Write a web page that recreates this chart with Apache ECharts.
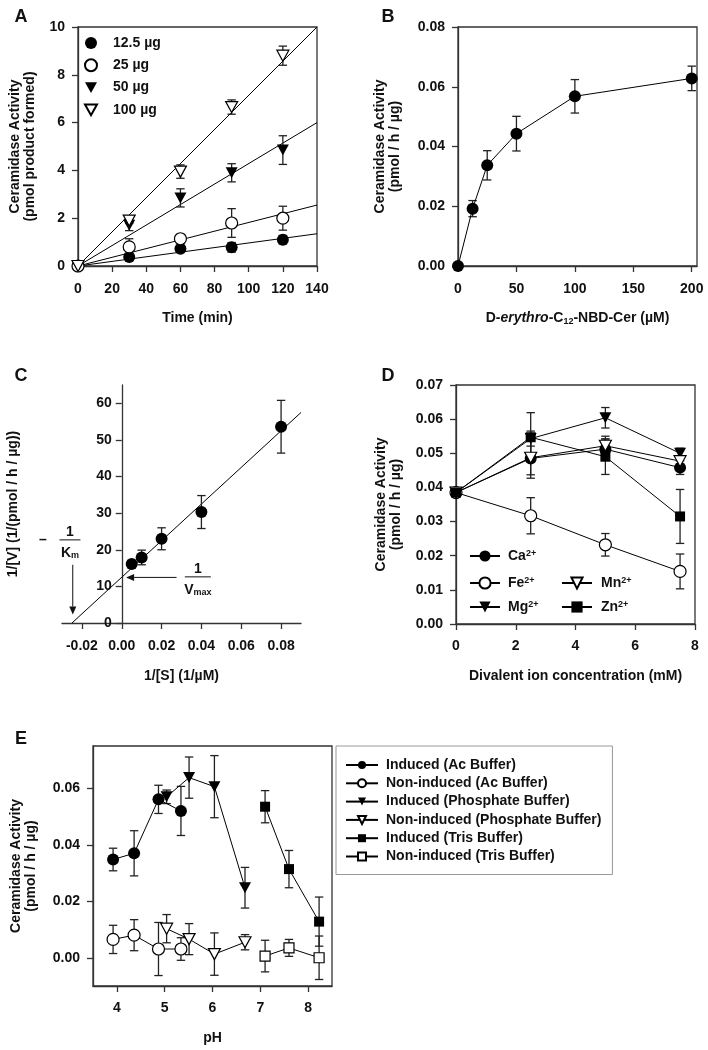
<!DOCTYPE html>
<html><head><meta charset="utf-8">
<script src="https://cdn.jsdelivr.net/npm/echarts@6/dist/echarts.min.js"></script>
<style>html,body{margin:0;padding:0;background:#fff}#c{width:708px;height:1050px}</style>
</head><body><div id="c"></div>
<script>
// ---------------- DATA ----------------
// Panel A
const aTime = [0, 30, 60, 90, 120];
const aNames = ['12.5 µg', '25 µg', '50 µg', '100 µg'];
const a125 = [0, 0.38, 0.72, 0.78, 1.10];
const a125Err = [0, 0.08, 0.10, 0.20, 0.18];
const a25 = [0, 0.80, 1.14, 1.80, 2.00];
const a25Err = [0, 0.34, 0.18, 0.60, 0.50];
const a50 = [0, 1.70, 2.85, 3.90, 4.85];
const a50Err = [0, 0.22, 0.38, 0.38, 0.60];
const a100 = [0, 1.90, 3.95, 6.65, 8.80];
const a100Err = [0, 0.12, 0.28, 0.30, 0.40];
const aFitX = [0, 140];
const aFit125 = [0, 1.35];
const aFit25 = [0, 2.55];
const aFit50 = [0, 6.0];
const aFit100 = [0, 10.0];

// Panel B
const bConc = [0, 12.5, 25, 50, 100, 200];
const bAct = [0, 0.0192, 0.0337, 0.0443, 0.0568, 0.0628];
const bErr = [0, 0.0027, 0.0049, 0.0058, 0.0056, 0.0041];
const bXTicks = [0, 50, 100, 150, 200];

// Panel C
const cInvS = [0.005, 0.01, 0.02, 0.04, 0.08];
const cInvV = [16.1, 17.9, 23.0, 30.3, 53.6];
const cErr = [1.0, 2.0, 3.0, 4.5, 7.2];
const cFitX = [-0.025, 0.09];
const cFitY = [0, 57.5];
const cXMin = -0.03, cXMax = 0.09;
const cXTicks = [-0.02, 0, 0.02, 0.04, 0.06, 0.08];
const cYTicks = [0, 10, 20, 30, 40, 50, 60];
const cKmAnchor = [-0.026, 22.7];
const cKmArrow = [[-0.0246, 15.9], [-0.0246, 2.3]];
const cVmaxAnchor = [0.0382, 12.6];
const cVmaxArrow = [[0.0275, 12.45], [0.0022, 12.45]];

// Panel D
const dConc = [0, 2.5, 5, 7.5];
const dNames = ['Ca2+', 'Fe2+', 'Mg2+', 'Mn2+', 'Zn2+'];
const dCa = [0.0385, 0.0485, 0.0512, 0.0458];
const dCaErr = [0.0008, 0.0058, 0.0030, 0.0020];
const dFe = [0.0385, 0.0317, 0.0232, 0.0154];
const dFeErr = [0.0008, 0.0053, 0.0033, 0.0051];
const dMg = [0.0385, 0.0543, 0.0604, 0.0500];
const dMgErr = [0.0008, 0.0022, 0.0030, 0.0015];
const dMn = [0.0385, 0.0487, 0.0522, 0.0477];
const dMnErr = [0.0008, 0.0050, 0.0028, 0.0015];
const dZn = [0.0385, 0.0547, 0.0490, 0.0315];
const dZnErr = [0.0008, 0.0072, 0.0052, 0.0079];

// Panel E
const eNames = ['Induced (Ac Buffer)', 'Non-induced (Ac Buffer)', 'Induced (Phosphate Buffer)',
  'Non-induced (Phosphate Buffer)', 'Induced (Tris Buffer)', 'Non-induced (Tris Buffer)'];
const eAcPH = [3.92, 4.36, 4.87, 5.34];
const eAcInd = [0.0348, 0.0370, 0.0561, 0.0520];
const eAcIndErr = [0.0040, 0.0080, 0.0050, 0.0087];
const eAcNon = [0.0065, 0.0080, 0.0031, 0.0031];
const eAcNonErr = [0.0050, 0.0055, 0.0094, 0.0040];
const ePhPH = [5.04, 5.51, 6.04, 6.68];
const ePhInd = [0.0570, 0.0638, 0.0606, 0.0248];
const ePhIndErr = [0.0024, 0.0073, 0.0110, 0.0072];
const ePhNon = [0.0103, 0.0066, 0.0013, 0.0055];
const ePhNonErr = [0.0050, 0.0055, 0.0075, 0.0027];
const eTrPH = [7.10, 7.60, 8.23];
const eTrInd = [0.0535, 0.0314, 0.0128];
const eTrIndErr = [0.0057, 0.0066, 0.0087];
const eTrNon = [0.0006, 0.0035, 0.0000];
const eTrNonErr = [0.0056, 0.0030, 0.0077];
const eXTicks = [4, 5, 6, 7, 8];
const eYTicks = [0, 0.02, 0.04, 0.06];

// ---------------- STYLE ----------------
const FONT = '"Liberation Sans", Arial, Helvetica, sans-serif';
const INK = '#111';
const AXC = '#333';
const TRI = 'path://M0,0L10,0L5,9Z';
const MK = {
  fc: {symbol: 'circle', size: 12, item: {color: '#000', opacity: 1}},
  oc: {symbol: 'circle', size: 12, item: {color: '#fff', borderColor: '#000', borderWidth: 1.2, opacity: 1}},
  ft: {symbol: TRI, size: [12, 11], item: {color: '#000', opacity: 1}},
  ot: {symbol: TRI, size: [12, 11], item: {color: '#fff', borderColor: '#000', borderWidth: 1.2, opacity: 1}},
  fs: {symbol: 'rect', size: 10, item: {color: '#000', opacity: 1}},
  os: {symbol: 'rect', size: 10, item: {color: '#fff', borderColor: '#000', borderWidth: 1.2, opacity: 1}}
};
const zip = (xs, ys) => xs.map((x, i) => [x, ys[i]]);
const bold14 = {fontFamily: FONT, fontWeight: 'bold', fontSize: 14, color: INK};

function errRender(params, api) {
  const x = api.value(0), y = api.value(1), e = api.value(2);
  const t = api.coord([x, y + e]), b = api.coord([x, y - e]);
  const hw = 4.2, st = {stroke: '#222', lineWidth: 1.3};
  return {type: 'group', children: [
    {type: 'line', shape: {x1: t[0], y1: t[1], x2: b[0], y2: b[1]}, style: st},
    {type: 'line', shape: {x1: t[0] - hw, y1: t[1], x2: t[0] + hw, y2: t[1]}, style: st},
    {type: 'line', shape: {x1: b[0] - hw, y1: b[1], x2: b[0] + hw, y2: b[1]}, style: st}
  ]};
}
function errSeries(name, gi, xs, ys, es) {
  return {type: 'custom', name: name + ' err', xAxisIndex: gi, yAxisIndex: gi, silent: true, clip: false, z: 2,
    data: xs.map((x, i) => [x, ys[i], es[i]]), encode: {x: 0, y: 1}, renderItem: errRender};
}
function scatterSeries(name, gi, xs, ys, mk) {
  return {type: 'scatter', name, xAxisIndex: gi, yAxisIndex: gi, data: zip(xs, ys), symbol: mk.symbol,
    symbolSize: mk.size, itemStyle: mk.item, z: 3, clip: false, silent: true};
}
function lineSeries(name, gi, xs, ys, mk) {
  return {type: 'line', name, xAxisIndex: gi, yAxisIndex: gi, data: zip(xs, ys), symbol: mk.symbol,
    symbolSize: mk.size, showSymbol: true, itemStyle: mk.item, lineStyle: {color: '#000', width: 1},
    z: 3, clip: false, silent: true};
}
function fitSeries(gi, xs, ys) {
  return {type: 'line', xAxisIndex: gi, yAxisIndex: gi, data: zip(xs, ys), symbol: 'none',
    lineStyle: {color: '#000', width: 1}, z: 1, silent: true, clip: false};
}
function axis(o) {
  const base = {
    type: 'value',
    axisLine: {show: true, onZero: false, lineStyle: {color: AXC, width: 1.3}},
    axisTick: {show: true, inside: false, length: 6, lineStyle: {color: AXC, width: 1.3}},
    axisLabel: Object.assign({margin: 13}, bold14),
    splitLine: {show: false},
    nameLocation: 'middle',
    nameTextStyle: Object.assign({lineHeight: 15}, bold14)
  };
  const r = Object.assign({}, base, o);
  if (o.axisLabelX) { r.axisLabel = Object.assign({}, base.axisLabel, o.axisLabelX); delete r.axisLabelX; }
  if (o.axisTickX) { r.axisTick = Object.assign({}, base.axisTick, o.axisTickX); delete r.axisTickX; }
  return r;
}
const f2 = v => v.toFixed(2);
const supRich = {sup: {fontFamily: FONT, fontWeight: 'bold', fontSize: 9, color: INK, verticalAlign: 'top', lineHeight: 14}};
const gridBase = {show: true, borderColor: AXC, borderWidth: 1.3, containLabel: false, outerBoundsMode: 'none'};

// panel C grid geometry; its y axis is shifted onto x = 0 with an axis offset
const cGrid = {left: 62, top: 385, width: 239, height: 238};
const cYOffset = -cGrid.width * (0 - cXMin) / (cXMax - cXMin);

const chart = echarts.init(document.getElementById('c'), null, {renderer: 'canvas'});

const option = {
  animation: false,
  textStyle: {fontFamily: FONT},
  grid: [
    Object.assign({left: 78, top: 27, width: 239, height: 239}, gridBase),
    Object.assign({left: 458, top: 27, width: 239, height: 239}, gridBase),
    Object.assign({}, cGrid, gridBase, {show: false}),
    Object.assign({left: 456, top: 385, width: 239, height: 239}, gridBase),
    Object.assign({left: 93, top: 746, width: 239, height: 240}, gridBase)
  ],
  xAxis: [
    axis({gridIndex: 0, min: 0, max: 140, interval: 20, name: 'Time (min)', nameGap: 45, axisLabelX: {margin: 16}}),
    axis({gridIndex: 1, min: 0, max: 204.5, name: 'D-{i|erythro}-C{sub|12}-NBD-Cer (µM)', nameGap: 45,
      axisTickX: {customValues: bXTicks}, axisLabelX: {margin: 16, customValues: bXTicks},
      nameTextStyle: Object.assign({lineHeight: 15, rich: {
        i: {fontFamily: FONT, fontWeight: 'bold', fontStyle: 'italic', fontSize: 14, color: INK},
        sub: {fontFamily: FONT, fontWeight: 'bold', fontSize: 9, color: INK, verticalAlign: 'bottom'}
      }}, bold14)}),
    axis({gridIndex: 2, min: cXMin, max: cXMax, name: '1/[S] (1/µM)', nameGap: 46,
      axisTickX: {customValues: cXTicks},
      axisLabelX: {margin: 16, customValues: cXTicks, formatter: f2}}),
    axis({gridIndex: 3, min: 0, max: 8, interval: 2, name: 'Divalent ion concentration (mM)', nameGap: 45, axisLabelX: {margin: 15}}),
    axis({gridIndex: 4, min: 3.5, max: 8.5, name: 'pH', nameGap: 45,
      axisTickX: {customValues: eXTicks}, axisLabelX: {margin: 15, customValues: eXTicks}})
  ],
  yAxis: [
    axis({gridIndex: 0, min: 0, max: 10, interval: 2, name: 'Ceramidase Activity\n(pmol product formed)', nameGap: 40}),
    axis({gridIndex: 1, min: 0, max: 0.08, interval: 0.02, name: 'Ceramidase Activity\n(pmol / h / µg)', nameGap: 55,
      axisLabelX: {formatter: f2}}),
    axis({gridIndex: 2, min: 0, max: 65, offset: cYOffset, name: '1/[V] (1/(pmol / h / µg))', nameGap: 101,
      axisTickX: {customValues: cYTicks}, axisLabelX: {margin: 10, customValues: cYTicks}}),
    axis({gridIndex: 3, min: 0, max: 0.07, interval: 0.01, name: 'Ceramidase Activity\n(pmol / h / µg)', nameGap: 52,
      axisLabelX: {formatter: f2}}),
    axis({gridIndex: 4, min: -0.01, max: 0.075, name: 'Ceramidase Activity\n(pmol / h / µg)', nameGap: 54,
      axisTickX: {customValues: eYTicks}, axisLabelX: {customValues: eYTicks, formatter: f2}})
  ],
  legend: [
    {data: aNames, orient: 'vertical', left: 84, top: 36, itemWidth: 12, itemHeight: 12, itemGap: 8.3, padding: 0,
      selectedMode: false, textStyle: Object.assign({padding: [0, 0, 0, 11]}, bold14)},
    {data: ['Ca2+'], left: 469, top: 549, itemWidth: 30, itemHeight: 14, padding: 0, selectedMode: false,
      formatter: n => n.replace(/(\d\+)$/, '{sup|$1}'), textStyle: Object.assign({padding: [0, 0, 0, 3], rich: supRich}, bold14)},
    {data: ['Fe2+'], left: 469, top: 576, itemWidth: 30, itemHeight: 14, padding: 0, selectedMode: false,
      formatter: n => n.replace(/(\d\+)$/, '{sup|$1}'), textStyle: Object.assign({padding: [0, 0, 0, 3], rich: supRich}, bold14)},
    {data: ['Mg2+'], left: 469, top: 600, itemWidth: 30, itemHeight: 14, padding: 0, selectedMode: false,
      formatter: n => n.replace(/(\d\+)$/, '{sup|$1}'), textStyle: Object.assign({padding: [0, 0, 0, 3], rich: supRich}, bold14)},
    {data: ['Mn2+'], left: 561, top: 576, itemWidth: 30, itemHeight: 14, padding: 0, selectedMode: false,
      formatter: n => n.replace(/(\d\+)$/, '{sup|$1}'), textStyle: Object.assign({padding: [0, 0, 0, 4], rich: supRich}, bold14)},
    {data: ['Zn2+'], left: 561, top: 600, itemWidth: 30, itemHeight: 14, padding: 0, selectedMode: false,
      formatter: n => n.replace(/(\d\+)$/, '{sup|$1}'), textStyle: Object.assign({padding: [0, 0, 0, 4], rich: supRich}, bold14)},
    {data: eNames, orient: 'vertical', left: 336, top: 746, itemWidth: 32, itemHeight: 10, itemGap: 4.3,
      padding: [12, 11, 11, 9], borderColor: '#999', borderWidth: 1, selectedMode: false,
      textStyle: Object.assign({padding: [0, 0, 0, 3]}, bold14)}
  ],
  series: [
    // A
    fitSeries(0, aFitX, aFit125), fitSeries(0, aFitX, aFit25), fitSeries(0, aFitX, aFit50), fitSeries(0, aFitX, aFit100),
    errSeries(aNames[0], 0, aTime, a125, a125Err), errSeries(aNames[1], 0, aTime, a25, a25Err),
    errSeries(aNames[2], 0, aTime, a50, a50Err), errSeries(aNames[3], 0, aTime, a100, a100Err),
    scatterSeries(aNames[0], 0, aTime, a125, MK.fc), scatterSeries(aNames[1], 0, aTime, a25, MK.oc),
    scatterSeries(aNames[2], 0, aTime, a50, MK.ft), scatterSeries(aNames[3], 0, aTime, a100, MK.ot),
    // B
    errSeries('B', 1, bConc, bAct, bErr),
    lineSeries('B activity', 1, bConc, bAct, MK.fc),
    // C
    fitSeries(2, cFitX, cFitY),
    errSeries('C', 2, cInvS, cInvV, cErr),
    scatterSeries('C points', 2, cInvS, cInvV, MK.fc),
    // D
    errSeries('Ca', 3, dConc, dCa, dCaErr), errSeries('Fe', 3, dConc, dFe, dFeErr),
    errSeries('Mg', 3, dConc, dMg, dMgErr), errSeries('Mn', 3, dConc, dMn, dMnErr),
    errSeries('Zn', 3, dConc, dZn, dZnErr),
    lineSeries(dNames[0], 3, dConc, dCa, MK.fc), lineSeries(dNames[1], 3, dConc, dFe, MK.oc),
    lineSeries(dNames[2], 3, dConc, dMg, MK.ft), lineSeries(dNames[3], 3, dConc, dMn, MK.ot),
    lineSeries(dNames[4], 3, dConc, dZn, MK.fs),
    // E
    errSeries('e1', 4, eAcPH, eAcInd, eAcIndErr), errSeries('e2', 4, eAcPH, eAcNon, eAcNonErr),
    errSeries('e3', 4, ePhPH, ePhInd, ePhIndErr), errSeries('e4', 4, ePhPH, ePhNon, ePhNonErr),
    errSeries('e5', 4, eTrPH, eTrInd, eTrIndErr), errSeries('e6', 4, eTrPH, eTrNon, eTrNonErr),
    lineSeries(eNames[0], 4, eAcPH, eAcInd, MK.fc), lineSeries(eNames[1], 4, eAcPH, eAcNon, MK.oc),
    lineSeries(eNames[2], 4, ePhPH, ePhInd, MK.ft), lineSeries(eNames[3], 4, ePhPH, ePhNon, MK.ot),
    lineSeries(eNames[4], 4, eTrPH, eTrInd, MK.fs), lineSeries(eNames[5], 4, eTrPH, eTrNon, MK.os)
  ]
};
chart.setOption(option);

// ---------------- annotations (panel C) & panel letters ----------------
const px = p => chart.convertToPixel({gridIndex: 2}, p);
function arrow(p0, p1) {
  const dx = p1[0] - p0[0], dy = p1[1] - p0[1], L = Math.hypot(dx, dy), ux = dx / L, uy = dy / L;
  const hl = 8, hw = 3.5, bx = p1[0] - ux * hl, by = p1[1] - uy * hl;
  return [
    {type: 'line', shape: {x1: p0[0], y1: p0[1], x2: bx, y2: by}, style: {stroke: INK, lineWidth: 1}},
    {type: 'polygon', shape: {points: [[p1[0], p1[1]], [bx - uy * hw, by + ux * hw], [bx + uy * hw, by - ux * hw]]}, style: {fill: INK}}
  ];
}
const subRich = {s: {fontFamily: FONT, fontWeight: 'bold', fontSize: 9, color: INK, verticalAlign: 'bottom'}};
function txt(x, y, text, extra) {
  return {type: 'text', x, y, style: Object.assign({text, fontFamily: FONT, fontWeight: 'bold', fontSize: 14, fill: INK,
    align: 'center', verticalAlign: 'middle', rich: subRich}, extra || {})};
}
function fraction(c, w, bottomText) {
  return [
    {type: 'line', shape: {x1: c[0] - w / 2, y1: c[1], x2: c[0] + w / 2, y2: c[1]}, style: {stroke: INK, lineWidth: 1}},
    txt(c[0], c[1] - 8, '1'),
    txt(c[0], c[1] + 13, bottomText)
  ];
}
const km = px(cKmAnchor), vm = px(cVmaxAnchor);
const graphics = [].concat(
  fraction(km, 21, 'K{s|m}'),
  [txt(km[0] - 27, km[1], '\u2013')],
  fraction(vm, 26, 'V{s|max}'),
  arrow(px(cKmArrow[0]), px(cKmArrow[1])),
  arrow(px(cVmaxArrow[0]), px(cVmaxArrow[1])),
  [txt(21, 17, 'A', {fontSize: 18}), txt(388, 17, 'B', {fontSize: 18}), txt(21, 376, 'C', {fontSize: 18}),
   txt(388, 376, 'D', {fontSize: 18}), txt(21, 739, 'E', {fontSize: 18})]
);
chart.setOption({graphic: graphics});
</script></body></html>
